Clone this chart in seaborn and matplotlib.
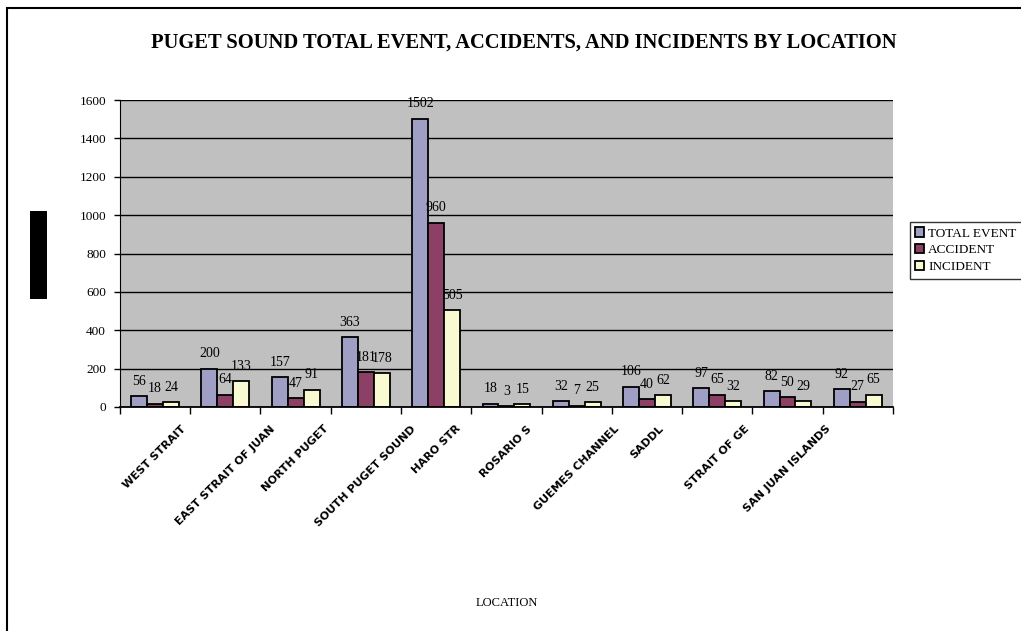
import matplotlib.pyplot as plt
import pandas as pd
import seaborn as sns
from matplotlib.patches import Rectangle

locations = ['WEST STRAIT', 'EAST STRAIT OF JUAN', 'NORTH PUGET', 'SOUTH PUGET SOUND',
             'HARO STRAIT', 'ROSARIO STRAIT', 'GUEMES CHANNEL', 'SADDLE',
             'STRAIT OF GEORGIA', 'SAN JUAN ISLANDS', 'OTHER']
tick_labels = ['WEST STRAIT', 'EAST STRAIT OF JUAN', 'NORTH PUGET', 'SOUTH PUGET SOUND',
               'HARO STR', 'ROSARIO S', 'GUEMES CHANNEL', 'SADDL',
               'STRAIT OF GE', 'SAN JUAN ISLANDS', '']
total_event = [56, 200, 157, 363, 1502, 18, 32, 106, 97, 82, 92]
accident = [18, 64, 47, 181, 960, 3, 7, 40, 65, 50, 27]
incident = [24, 133, 91, 178, 505, 15, 25, 62, 32, 29, 65]
series = ['TOTAL EVENT', 'ACCIDENT', 'INCIDENT']
colors = ['#9999CC', '#993366', '#FFFFCC']

df = pd.DataFrame({'Location': locations, 'TOTAL EVENT': total_event,
                   'ACCIDENT': accident, 'INCIDENT': incident})
long_df = df.melt(id_vars='Location', var_name='Type', value_name='Count')

plt.rcParams['font.family'] = ['Liberation Serif', 'DejaVu Serif']

fig = plt.figure(figsize=(10.21, 6.31), dpi=100)
ax = fig.add_axes([0.1175, 0.355, 0.757, 0.4865])
ax.set_facecolor('#C0C0C0')
ax.set_axisbelow(True)

sns.barplot(data=long_df, x='Location', y='Count', hue='Type', hue_order=series,
            palette=colors, width=0.68, edgecolor='black', linewidth=1.3,
            ax=ax, legend=True)

for container in ax.containers:
    ax.bar_label(container, padding=6, fontsize=10)

ax.set_ylim(0, 1600)
ax.set_xlim(-0.5, len(locations) - 0.5)
ax.set_yticks(range(0, 1601, 200))
ax.tick_params(axis='y', labelsize=9.5, length=4, width=1, color='black', pad=6)
ax.yaxis.grid(True, color='black', linewidth=1)
ax.xaxis.grid(False)

ax.set_xticks(range(len(locations)))
ax.set_xticklabels(tick_labels, rotation=45, ha='center', fontsize=8,
                   fontweight='bold', family='DejaVu Sans')
ax.tick_params(axis='x', which='major', length=0, pad=12)
ax.set_xticks([i - 0.5 for i in range(len(locations) + 1)], minor=True)
ax.tick_params(axis='x', which='minor', length=5, width=1, color='black')

for s in ['top', 'right']:
    ax.spines[s].set_visible(False)
ax.spines['left'].set_color('black')
ax.spines['bottom'].set_color('black')
ax.spines['bottom'].set_linewidth(1.3)

ax.set_xlabel('LOCATION', fontsize=9, labelpad=0)
ax.xaxis.set_label_coords(0.5, -0.62)
ax.set_ylabel('')

leg = ax.legend(loc='upper left', bbox_to_anchor=(0.891, 0.648), bbox_transform=fig.transFigure,
                frameon=True, fancybox=False, edgecolor='black', fontsize=9.5,
                handlelength=0.7, handleheight=0.7, handletextpad=0.3,
                borderpad=0.4, labelspacing=0.35, borderaxespad=0)
leg.get_frame().set_linewidth(1)

fig.suptitle('PUGET SOUND TOTAL EVENT, ACCIDENTS, AND INCIDENTS BY LOCATION',
             x=0.513, y=0.948, fontsize=14.8, fontweight='bold')

fig.patches.append(Rectangle((7 / 1021, -0.1), 1.2, (631 - 8) / 631 + 0.1,
                             transform=fig.transFigure, fill=False,
                             edgecolor='black', linewidth=1.5))
fig.patches.append(Rectangle((30 / 1021, (631 - 299) / 631), 17 / 1021, 88 / 631,
                             transform=fig.transFigure, facecolor='black', edgecolor='none'))

plt.savefig('out.png', dpi=100)
